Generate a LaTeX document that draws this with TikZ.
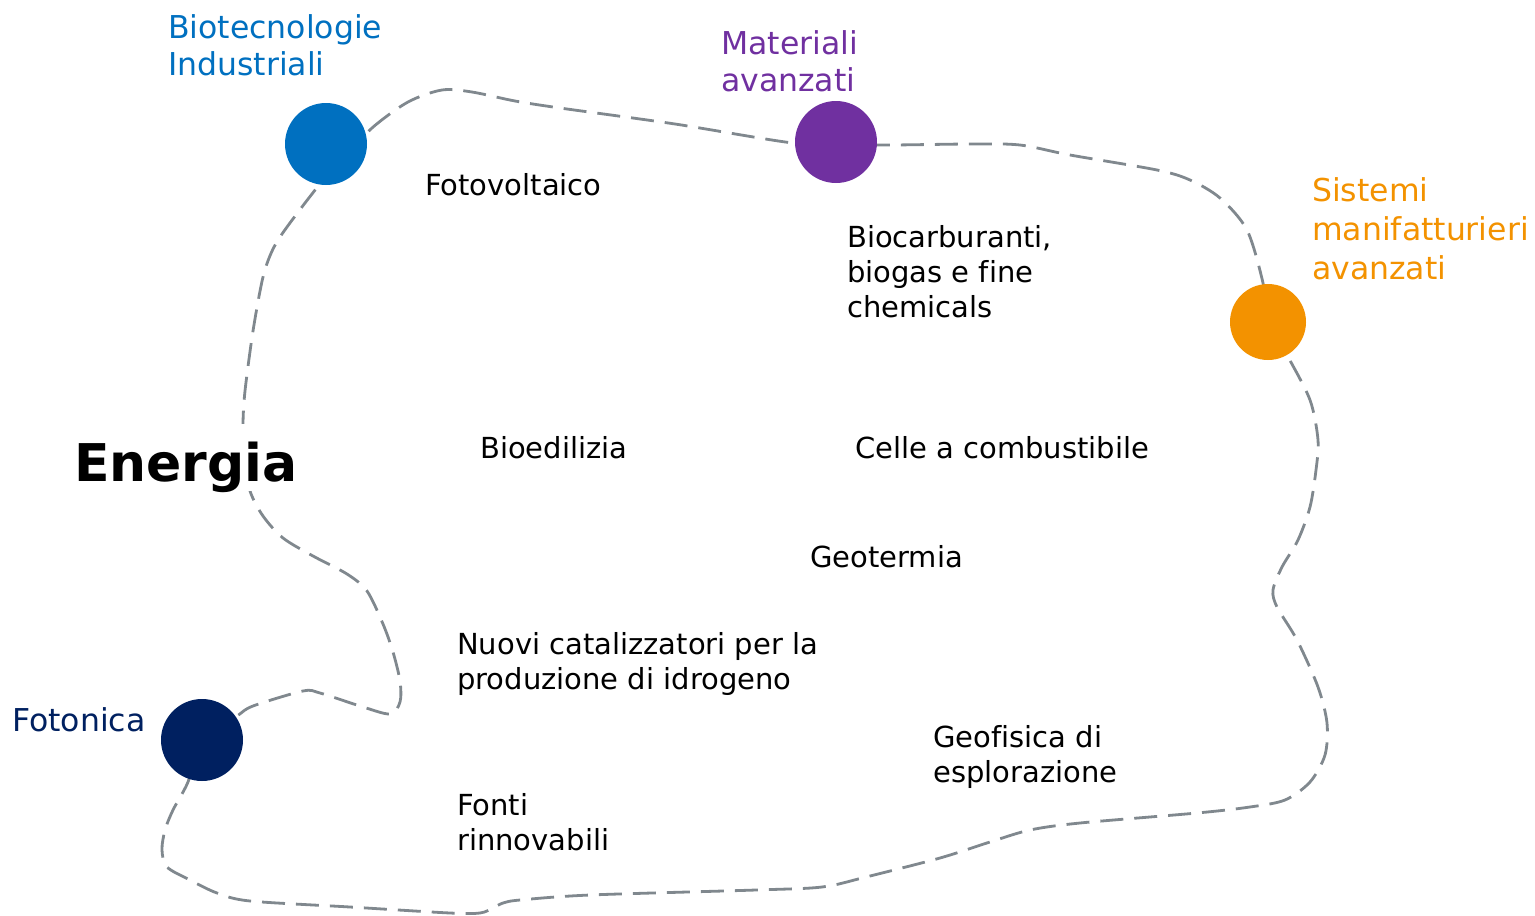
\documentclass[tikz,border=0pt]{standalone}
\usepackage{fontspec}
\setmainfont[Ligatures=NoCommon]{DejaVu Sans}
\definecolor{cbio}{HTML}{0070C0}
\definecolor{cmat}{HTML}{7030A0}
\definecolor{csis}{HTML}{F39200}
\definecolor{cfot}{HTML}{002060}
\definecolor{cline}{RGB}{128,136,142}
\begin{document}
\begin{tikzpicture}[x=1pt,y=-1pt,
  dot/.style={circle,inner sep=0pt,minimum size=82pt,fill=#1,draw=none},
  txt/.style={anchor=base west,inner sep=0pt,align=left,font=\fontsize{29}{35}\selectfont},
  head/.style={anchor=base west,inner sep=0pt,align=left,text=#1,font=\fontsize{31.5}{37}\selectfont},
  dashline/.style={draw=cline,line width=2.8pt,dash pattern=on 23pt off 11pt}]
\useasboundingbox (0,0) rectangle (1535,916);
\coordinate (cbioc) at (326,144);
\coordinate (cmatc) at (836,142);
\coordinate (csisc) at (1268,322);
\coordinate (cfotc) at (202,740);
\draw[dashline] plot[smooth cycle,tension=0.5] coordinates {
 (345,158) (372,128) (408,102) (442,90) (472,92) (515,101) (560,108) (675,124) (793,143)
 (cmatc) (877,145) (970,144) (1020,145) (1070,155) (1157,170) (1190,180) (1220,198) (1247,230) (1263,283)
 (csisc) (1287,355) (1310,400) (1318,440) (1316,470) (1310,507) (1298,540) (1282,567) (1273,590) (1277,607)
 (1297,640) (1318,687) (1327,723) (1325,755) (1310,782) (1285,800) (1250,807) (1197,813) (1080,823)
 (1030,830) (990,842) (940,858) (866,877) (822,887) (756,890) (590,895) (520,900) (503,903) (493,908)
 (480,913) (450,913) (350,907) (250,901) (217,893) (190,880) (167,867) (162,850) (165,830) (173,810) (188,782)
 (cfotc) (237,716) (253,706) (303,691) (320,693) (360,706) (390,714) (400,702) (400,681) (393,652) (383,624)
 (367,591) (347,574) (313,556) (283,538) (263,516) (250,491) (244,458) (243,424) (245,391) (253,331) (263,277)
 (273,249) (287,227) (320,184)};
\node[dot=cbio] (bio) at (cbioc) {};
\node[dot=cmat] (mat) at (cmatc) {};
\node[dot=csis,minimum size=76pt] (sis) at (csisc) {};
\node[dot=cfot] (fot) at (cfotc) {};
\node[head=cbio] (lbio) at (168,75) {Biotecnologie\\Industriali};
\node[head=cmat] (lmat) at (721,91) {Materiali\\avanzati};
\node[head=csis,font=\fontsize{31.5}{39}\selectfont] (lsis) at (1312,279) {Sistemi\\manifatturieri\\avanzati};
\node[head=cfot] (lfot) at (12,731) {Fotonica};
\node[anchor=base west,inner sep=0pt,fill=white,text height=57pt,text depth=10pt,font=\bfseries\fontsize{52}{62}\selectfont] (en) at (74,481) {Energia};
\node[txt] (t1) at (425,195) {Fotovoltaico};
\node[txt] (t2) at (847,317) {Biocarburanti,\\biogas e fine\\chemicals};
\node[txt] (t3) at (480,458) {Bioedilizia};
\node[txt] (t4) at (855,458) {Celle a combustibile};
\node[txt] (t5) at (810,567) {Geotermia};
\node[txt] (t6) at (457,689) {Nuovi catalizzatori per la\\produzione di idrogeno};
\node[txt] (t7) at (933,782) {Geofisica di\\esplorazione};
\node[txt] (t8) at (457,850) {Fonti\\rinnovabili};
\end{tikzpicture}
\end{document}
